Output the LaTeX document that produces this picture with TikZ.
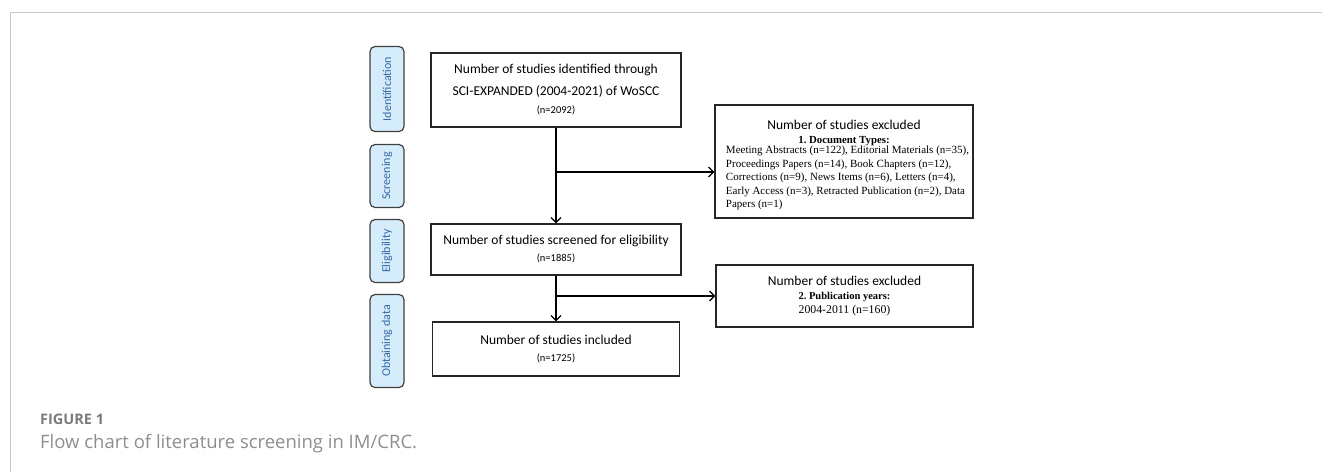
\documentclass[tikz,border=0pt]{standalone}
\usepackage{fontspec}
\setmainfont{Carlito}
\newfontfamily\capfont{Open Sans}
\newfontfamily\listfont{Liberation Serif}
\usetikzlibrary{positioning}
\usetikzlibrary{arrows.meta}
\definecolor{stagefill}{HTML}{D5ECFB}
\definecolor{stagetext}{HTML}{3568A6}
\definecolor{framegray}{HTML}{C8C8C8}
\definecolor{capgray}{HTML}{7A7A7A}

\begin{document}
\begin{tikzpicture}[x=1pt,y=-1pt,
  stage/.style={draw=black!75,line width=1.2pt,fill=stagefill,rounded corners=5pt,rotate=90,minimum height=34pt,inner sep=0pt,text=stagetext,font=\fontsize{12}{14}\selectfont},
  box/.style={draw=black!85,line width=1.2pt,inner sep=0pt,align=center,font=\fontsize{13.5}{17}\selectfont},
  arr/.style={line width=1.2pt,-{Straight Barb[length=5pt,width=10pt]}}]
\useasboundingbox (0,0) rectangle (1322,472);
% frame
\draw[framegray,line width=1pt] (10,472) -- (10,12) -- (1322,12);

% stages
\node[stage,minimum width=85pt] (sid) at (387,89) {Identification};
\node[stage,minimum width=63pt] (sscr) at (387,176) {Screening};
\node[stage,minimum width=63pt] (selig) at (387,251) {Eligibility};
\node[stage,minimum width=93pt] (sobt) at (387,341) {Obtaining data};

% main boxes
\node[box,minimum width=250pt,minimum height=74pt] (ident) at (556,90) {Number of studies identified through\\[5pt]SCI-EXPANDED (2004-2021) of WoSCC\\[1pt]{\fontsize{10.5}{12}\selectfont (n=2092)}};
\node[box,minimum width=250pt,minimum height=51pt] (elig) at (556,249.5) {Number of studies screened for eligibility\\{\fontsize{10.5}{12}\selectfont (n=1885)}};
\node[box,minimum width=247pt,minimum height=54pt] (incl) at (556,349) {Number of studies included\\{\fontsize{10.5}{12}\selectfont (n=1725)}};

% excluded boxes
\node[box,minimum width=258pt,minimum height=113pt,font=\fontsize{13.5}{14}\selectfont] (excl1) at (844,161.5) {\rule{0pt}{18pt}Number of studies excluded\\
{\listfont\fontsize{10.8}{14}\selectfont\bfseries 1.\ Document Types:}\\[-2pt]
\hspace*{7pt}{\listfont\fontsize{11}{13.5}\selectfont\begin{tabular}{@{}l@{}}
Meeting Abstracts (n=122), Editorial Materials (n=35),\\
Proceedings Papers (n=14), Book Chapters (n=12),\\
Corrections (n=9), News Items (n=6), Letters (n=4),\\
Early Access (n=3), Retracted Publication (n=2), Data\\
Papers (n=1)\end{tabular}}};
\node[box,minimum width=257pt,minimum height=62pt,font=\fontsize{13.5}{14}\selectfont] (excl2) at (844.5,296) {Number of studies excluded\\{\listfont\fontsize{10.5}{14}\selectfont\bfseries 2.\ Publication years:}\\{\listfont\fontsize{11.8}{14}\selectfont 2004-2011 (n=160)}};

% connectors
\coordinate (b1) at (556,172);
\coordinate (b2) at (556,296);
\draw[arr] (ident) -- (elig);
\draw[arr] (b1) -- (b1 -| excl1.west);
\draw[arr] (elig) -- (incl);
\draw[arr] (b2) -- (b2 -| excl2.west);

% caption
\node[anchor=base west,inner sep=0pt,text=capgray,font=\capfont\fontsize{14.5}{17}\selectfont\bfseries] (fig) at (40,424) {FIGURE 1};
\node[anchor=base west,inner sep=0pt,text=capgray!85,font=\capfont\fontsize{18.5}{21}\selectfont] (caption) at (40,448) {Flow chart of literature screening in IM/CRC.};
\end{tikzpicture}
\end{document}
